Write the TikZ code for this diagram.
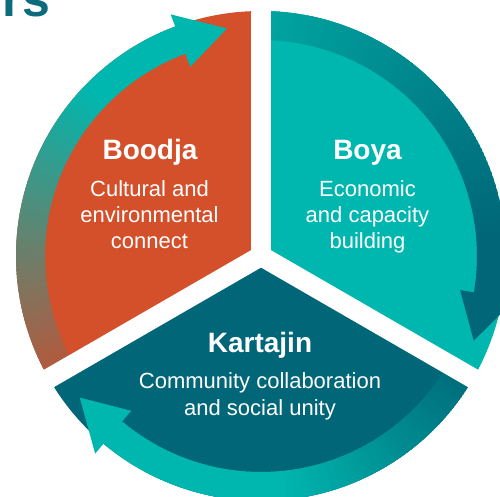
\documentclass[tikz,border=0pt]{standalone}
\usepackage{fontspec}
\setmainfont{Liberation Sans}
\definecolor{tealA}{HTML}{00B7AF}
\definecolor{tealTop}{HTML}{00A9A4}
\definecolor{darkteal}{HTML}{006678}
\definecolor{kdark}{HTML}{006C7B}
\definecolor{orangeA}{HTML}{D3502B}
\definecolor{brownA}{HTML}{B8573A}
\definecolor{titleteal}{HTML}{0C6B7D}
\newcommand\myband[3]{%
  \fill[#3] (#1:216pt) arc[start angle=#1, end angle=#2, radius=216pt]
    -- (#2:245pt) arc[start angle=#2, end angle=#1, radius=245pt] -- cycle;}
\begin{document}
\begin{tikzpicture}[x=1pt,y=1pt,
  titletext/.style={font=\bfseries\fontsize{28}{30}\selectfont, text=white, anchor=base, inner sep=0pt},
  bodytext/.style={font=\fontsize{22}{26}\selectfont, text=white, anchor=base, inner sep=0pt},
  gapline/.style={white, line width=20pt},
  headA/.style={fill=tealA},
  headB/.style={fill=darkteal}]
\useasboundingbox (-261,-241) rectangle (239,256);
\clip (-261,-241) rectangle (239,256);
\fill[white] (-261,-241) rectangle (239,256);

% sectors
\fill[orangeA] (0,0) -- (90:245pt) arc[start angle=90, end angle=210, radius=245pt] -- cycle;
\fill[tealA] (0,0) -- (-30:245pt) arc[start angle=-30, end angle=90, radius=245pt] -- cycle;
\fill[darkteal] (0,0) -- (210:245pt) arc[start angle=210, end angle=330, radius=245pt] -- cycle;

% Boodja band
\begin{scope}
\clip (0,0) -- (90:245pt) arc[start angle=90, end angle=210, radius=245pt] -- cycle;
\foreach \a in {110,...,214}{
  \pgfmathsetmacro\t{max(0,min(100,(210-\a)/75*100))}
  \pgfmathsetmacro\b{\a+1.4}
  \myband{\a}{\b}{tealA!\t!brownA}
}
\end{scope}

% Boya band
\begin{scope}
\clip (0,0) -- (-30:245pt) arc[start angle=-30, end angle=90, radius=245pt] -- cycle;
\foreach \a in {95,...,-9}{
  \pgfmathsetmacro\t{max(0,min(100,(\a-5)/90*100))}
  \pgfmathsetmacro\b{\a-1.4}
  \myband{\a}{\b}{tealTop!\t!darkteal}
}
\end{scope}

% Kartajin band
\begin{scope}
\clip (0,0) -- (210:245pt) arc[start angle=210, end angle=330, radius=245pt] -- cycle;
\foreach \a in {335,...,231}{
  \pgfmathsetmacro\t{max(0,min(100,(330-\a)/55*100))}
  \pgfmathsetmacro\b{\a-1.4}
  \myband{\a}{\b}{tealA!\t!kdark}
}
\end{scope}

% gaps
\draw[gapline] (0,0) -- (90:290pt);
\draw[gapline] (0,0) -- (210:290pt);
\draw[gapline] (0,0) -- (330:290pt);

% arrow heads
\fill[headA] (110.5:202pt) -- (110.5:258pt) -- (98.5:230pt) -- cycle;
\fill[headB] (-9.7:202pt) -- (-9.7:258pt) -- (-21.7:229pt) -- cycle;
\fill[headA] (230:202pt) -- (230:258pt) -- (218:230pt) -- cycle;

% texts
\node[titletext] (boodja) at (-111,96) {Boodja};
\node[bodytext] (boodja1) at (-111.5,59) {Cultural and};
\node[bodytext] (boodja2) at (-111.5,33) {environmental};
\node[bodytext] (boodja3) at (-111.5,7) {connect};

\node[titletext] (boya) at (106.5,96) {Boya};
\node[bodytext] (boya1) at (106.5,59) {Economic};
\node[bodytext] (boya2) at (106.5,33) {and capacity};
\node[bodytext] (boya3) at (106.5,7) {building};

\node[titletext] (kartajin) at (-1,-96) {Kartajin};
\node[bodytext] (kartajin1) at (-1,-132) {Community collaboration};
\node[bodytext] (kartajin2) at (-1,-159) {and social unity};

\node[font=\bfseries\fontsize{50}{52}\selectfont, text=titleteal, anchor=base west, inner sep=0pt] (heading) at (-258.3,239) {rs};
\end{tikzpicture}
\end{document}
